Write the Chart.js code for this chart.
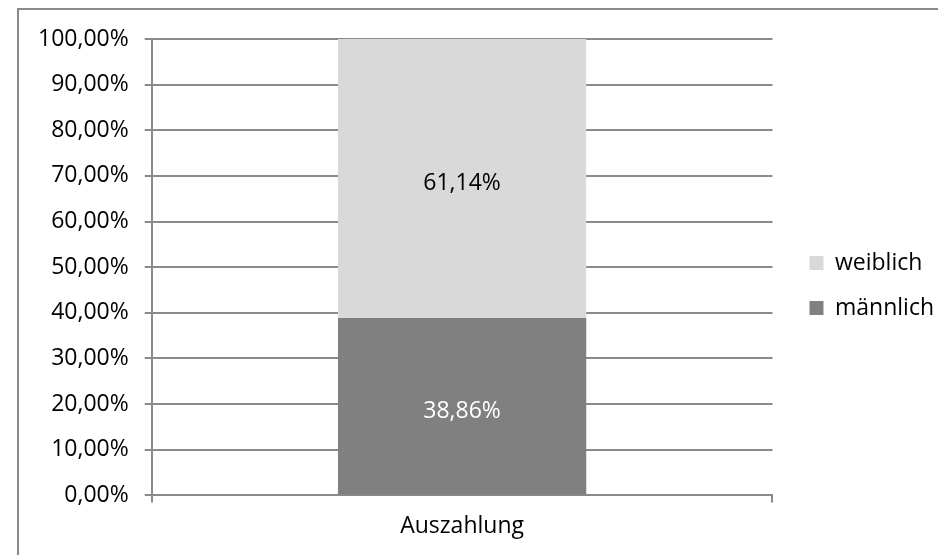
<!DOCTYPE html>
<html>
<head>
<meta charset="utf-8">
<script src="https://cdn.jsdelivr.net/npm/chart.js@4.4.1/dist/chart.umd.min.js"></script>
<style>
  html, body { margin: 0; padding: 0; background: #fff; overflow: hidden; }
  #wrap { position: relative; width: 938px; height: 555px; }
  #frame { position: absolute; left: 17px; top: 8px; width: 940px; height: 560px; border: 2px solid #8a8a8a; box-sizing: border-box; pointer-events: none; }
  canvas { position: absolute; left: 0; top: 0; }
</style>
</head>
<body>
<div id="wrap">
  <canvas id="chart" width="938" height="555"></canvas>
  <div id="frame"></div>
</div>
<script>
// Daten
const categories = ['Auszahlung'];
const maennlich = [38.86];
const weiblich = [61.14];
const yTicks = [0, 10, 20, 30, 40, 50, 60, 70, 80, 90, 100];

const FONT = "'Open Sans', sans-serif";
const FSIZE = 23;

function fmtPct(v) {
    return v.toFixed(2).replace('.', ',') + '%';
}

// Werte in den Balken schreiben
const barLabels = {
    id: 'barLabels',
    afterDatasetsDraw(chart) {
        const ctx = chart.ctx;
        ctx.save();
        ctx.font = FSIZE + 'px ' + FONT;
        ctx.textAlign = 'center';
        ctx.textBaseline = 'middle';
        chart.data.datasets.forEach((ds, i) => {
            const meta = chart.getDatasetMeta(i);
            meta.data.forEach((bar, j) => {
                const y = (bar.y + bar.base) / 2 + 5;
                ctx.fillStyle = ds.labelColor;
                ctx.fillText(fmtPct(ds.data[j]), bar.x, y);
            });
        });
        ctx.restore();
    }
};

// Legende etwas nach rechts/oben schieben
const legendShift = {
    id: 'legendShift',
    afterLayout(chart) {
        if (chart.legend) {
            chart.legend.left += 15;
            chart.legend.right += 15;
            chart.legend.top -= 9;
            chart.legend.bottom -= 9;
        }
    }
};

new Chart(document.getElementById('chart'), {
    type: 'bar',
    data: {
        labels: categories,
        datasets: [
            {
                label: 'männlich',
                data: maennlich,
                backgroundColor: '#808080',
                labelColor: '#ffffff',
                categoryPercentage: 1,
                barPercentage: 0.4,
            },
            {
                label: 'weiblich',
                data: weiblich,
                backgroundColor: '#d9d9d9',
                labelColor: '#000000',
                categoryPercentage: 1,
                barPercentage: 0.4,
            }
        ]
    },
    options: {
        responsive: false,
        animation: false,
        layout: { padding: { left: 22, top: 39, right: 9, bottom: 5 } },
        plugins: {
            legend: {
                position: 'right',
                reverse: true,
                labels: {
                    font: { family: FONT, size: FSIZE },
                    color: '#000',
                    boxWidth: 14,
                    boxHeight: 14,
                    padding: 22,
                }
            },
            tooltip: { enabled: false }
        },
        scales: {
            x: {
                stacked: true,
                grid: {
                    offset: true,
                    drawOnChartArea: false,
                    color: '#8a8a8a',
                    lineWidth: 2,
                    tickLength: 7,
                },
                border: { color: '#8a8a8a', width: 2 },
                ticks: {
                    font: { family: FONT, size: FSIZE },
                    color: '#000',
                    padding: 10,
                }
            },
            y: {
                stacked: true,
                min: 0,
                max: 100,
                afterBuildTicks: (axis) => { axis.ticks = yTicks.map(v => ({ value: v })); },
                grid: {
                    color: '#8a8a8a',
                    lineWidth: 2,
                    tickLength: 7,
                },
                border: { color: '#8a8a8a', width: 2 },
                ticks: {
                    font: { family: FONT, size: FSIZE },
                    color: '#000',
                    padding: 16,
                    callback: (v) => fmtPct(v),
                }
            }
        }
    },
    plugins: [barLabels, legendShift]
});
</script>
</body>
</html>
